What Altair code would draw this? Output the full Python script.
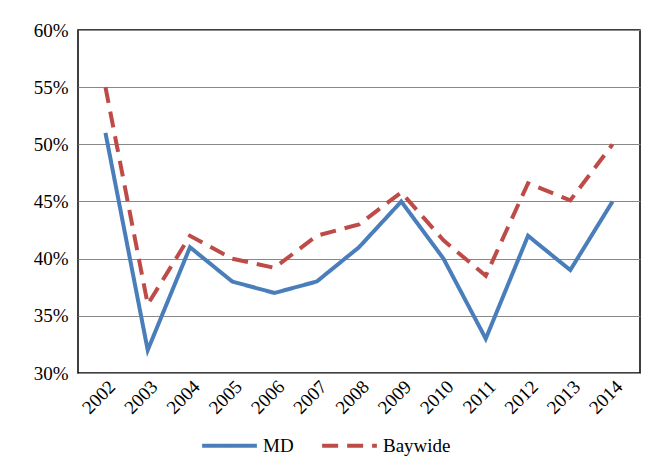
import pandas as pd
import altair as alt

years = [str(y) for y in range(2002, 2015)]
md = [51, 32, 41, 38, 37, 38, 41, 45, 40, 33, 42, 39, 45]
baywide = [55, 36, 42, 40, 39.2, 42, 43, 45.8, 41.6, 38.5, 46.6, 45.1, 50]

rows = []
for y, a, b in zip(years, md, baywide):
    rows.append({"year": y, "series": "MD", "value": a / 100})
    rows.append({"year": y, "series": "Baywide", "value": b / 100})
df = pd.DataFrame(rows)

FONT = "Liberation Serif"

chart = alt.Chart(df).mark_line(strokeWidth=4).encode(
    x=alt.X("year:O", title=None, scale=alt.Scale(type="point", padding=0.65),
            axis=alt.Axis(labelAngle=-45, labelFontSize=19, ticks=False, domain=False,
                          labelAlign="right", labelBaseline="top", labelPadding=4,
                          labelFont=FONT, labelColor="#000")),
    y=alt.Y("value:Q", title=None, scale=alt.Scale(domain=[0.3, 0.6]),
            axis=alt.Axis(format=".0%", values=[0.3, 0.35, 0.4, 0.45, 0.5, 0.55, 0.6],
                          labelFontSize=19, ticks=False, domain=False, gridColor="#888",
                          labelPadding=10, labelFont=FONT, labelColor="#000")),
    color=alt.Color("series:N", title=None,
                    scale=alt.Scale(domain=["MD", "Baywide"], range=["#4a7ebb", "#be4b48"]),
                    legend=alt.Legend(orient="none", legendX=122, legendY=386, padding=0,
                                      direction="horizontal", labelFontSize=19,
                                      labelFont=FONT, labelColor="#000",
                                      symbolType="stroke", symbolSize=3000, symbolStrokeWidth=4,
                                      columnPadding=20)),
    strokeDash=alt.StrokeDash("series:N", legend=None,
                              scale=alt.Scale(domain=["MD", "Baywide"], range=[[1, 0], [16, 9]])),
).properties(
    width=562, height=343,
    autosize=alt.AutoSizeParams(type="none"),
    padding={"left": 70, "top": 22, "right": 15, "bottom": 94},
).configure_view(stroke="#000", strokeWidth=1.5)

chart.save("out.html", embed_options={"renderer": "svg", "actions": False})
